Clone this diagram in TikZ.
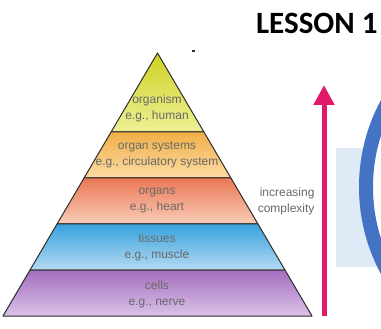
\documentclass[tikz,border=0pt]{standalone}
\usepackage[RGB]{xcolor}
\usepackage{fontspec}
\setmainfont{Liberation Sans}
\newfontfamily\titlefont{Carlito}
\usetikzlibrary{arrows.meta}
\definecolor{edge}{RGB}{45,45,45}
\definecolor{label}{RGB}{105,105,105}
\definecolor{organismtop}{RGB}{238,240,150}
\definecolor{organismbot}{RGB}{205,210,35}
\definecolor{systemstop}{RGB}{252,220,165}
\definecolor{systemsbot}{RGB}{240,175,70}
\definecolor{organstop}{RGB}{250,205,185}
\definecolor{organsbot}{RGB}{235,120,85}
\definecolor{tissuestop}{RGB}{180,218,242}
\definecolor{tissuesbot}{RGB}{55,162,222}
\definecolor{cellstop}{RGB}{218,195,232}
\definecolor{cellsbot}{RGB}{165,110,190}
\definecolor{arrowred}{RGB}{226,25,105}
\definecolor{panel}{RGB}{222,234,246}
\definecolor{ringblue}{RGB}{68,114,196}
\newcommand{\drawband}[4]{
  \shade[top color=#4, bottom color=#3, draw=edge, line width=1pt, line join=round]
    ({157.5-0.5875*(#1-53)},#1) -- ({157.5+0.5875*(#1-53)},#1)
    -- ({157.5+0.5875*(#2-53)},#2) -- ({157.5-0.5875*(#2-53)},#2) -- cycle;
}
\tikzset{
  bandtext/.style={text=label, align=center, font=\fontsize{12}{16}\selectfont},
  growarrow/.style={draw=arrowred, line width=5pt, -{Triangle[width=20pt,length=20pt]}}
}
\begin{document}
\begin{tikzpicture}[x=1pt,y=-1pt]
\useasboundingbox (0,0) rectangle (381,329);
\fill[white] (0,0) rectangle (381,329);
\begin{scope}
\clip (0,0) rectangle (381,329);
\fill[panel] (336,148) rectangle (390,267);
\draw[ringblue, line width=14pt, fill=white] (542,187) circle (176);
\end{scope}
\drawband{53}{132}{organismtop}{organismbot}
\drawband{132}{178}{systemstop}{systemsbot}
\drawband{178}{224}{organstop}{organsbot}
\drawband{224}{270}{tissuestop}{tissuesbot}
\drawband{270}{316}{cellstop}{cellsbot}
\fill[edge] (192,50.5) rectangle (194.5,52);
\node[bandtext] (organism) at (157,108) {organism\\e.g., human};
\node[bandtext] (systems) at (157,155) {organ systems\\e.g., circulatory system};
\node[bandtext] (organs) at (157,201) {organs\\e.g., heart};
\node[bandtext] (tissues) at (157,247) {tissues\\e.g., muscle};
\node[bandtext] (cells) at (157,294) {cells\\e.g., nerve};
\node[bandtext, align=right, anchor=east] (complexity) at (318,201) {increasing\\complexity};
\coordinate (arrowbase) at (324,316);
\coordinate (arrowtip) at (324,85);
\draw[growarrow] (arrowbase) -- (arrowtip);
\node[anchor=east, font=\titlefont\bfseries\fontsize{31}{31}\selectfont] (lesson) at (381,23) {LESSON 1};
\end{tikzpicture}
\end{document}
